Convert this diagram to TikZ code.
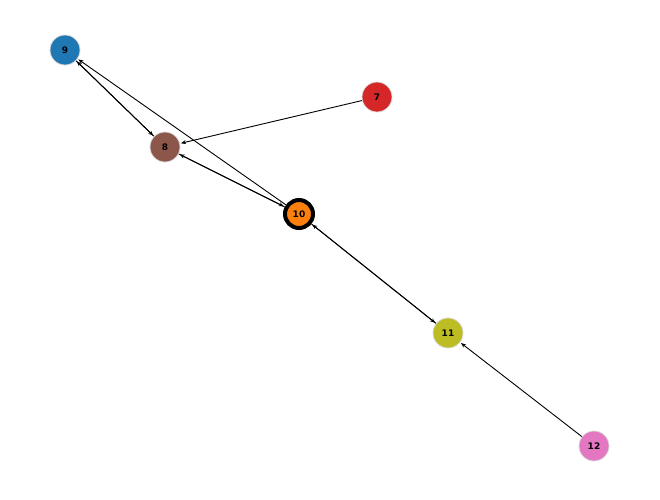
\documentclass[tikz,border=0pt]{standalone}
\usepackage{fontspec}
\setmainfont{DejaVu Sans}
\usetikzlibrary{arrows.meta}
\definecolor{tb}{HTML}{1F77B4}\definecolor{tr}{HTML}{D62728}\definecolor{tbr}{HTML}{8C564B}
\definecolor{to}{HTML}{FF7F0E}\definecolor{tol}{HTML}{BCBD22}\definecolor{tp}{HTML}{E377C2}
\tikzset{nd/.style={circle,minimum size=30pt,inner sep=0pt,draw=gray!30,line width=0.8pt,font=\bfseries\fontsize{9}{9}\selectfont},
ed/.style={-{Stealth[length=5pt,width=4pt]},line width=0.9pt,shorten >=1pt}}
\begin{document}
\begin{tikzpicture}[x=1pt,y=-1pt]
\useasboundingbox (0,0) rectangle (660,499);
\node[nd,fill=tb] (n9) at (65,50) {9};
\node[nd,fill=tr] (n7) at (377,97) {7};
\node[nd,fill=tbr] (n8) at (165,147) {8};
\node[nd,fill=to,draw=black,line width=4pt,minimum size=28pt] (n10) at (299,214) {10};
\node[nd,fill=tol] (n11) at (448,333) {11};
\node[nd,fill=tp] (n12) at (594,446) {12};
\draw[ed] (n9) -- (n8); \draw[ed] (n8) -- (n9);
\draw[ed] (n8) -- (n10); \draw[ed] (n10) -- (n8);
\draw[ed] (n10) -- (n9);
\draw[ed] (n7) -- (n8);
\draw[ed] (n10) -- (n11); \draw[ed] (n11) -- (n10);
\draw[ed] (n12) -- (n11);
\end{tikzpicture}
\end{document}
